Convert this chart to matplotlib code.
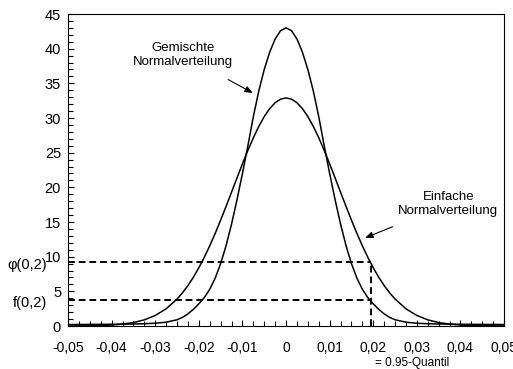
import numpy as np
import matplotlib
matplotlib.use("Agg")
import matplotlib.pyplot as plt
from matplotlib.ticker import FixedLocator, FixedFormatter, MultipleLocator

plt.rcParams["font.family"] = ["Liberation Sans", "DejaVu Sans"]

# x grid (fine in the centre, coarser in the tails)
x_vals = [-0.05, -0.0475, -0.045, -0.0425, -0.04, -0.0375, -0.035, -0.0325, -0.03, -0.0275,
          -0.025, -0.02375, -0.0225, -0.02125, -0.02, -0.01875, -0.0175, -0.01625, -0.015, -0.01375,
          -0.0125, -0.01125, -0.01, -0.00875, -0.0075, -0.00625, -0.005, -0.00375, -0.0025, -0.00125,
          0.0,
          0.00125, 0.0025, 0.00375, 0.005, 0.00625, 0.0075, 0.00875, 0.01, 0.01125, 0.0125,
          0.01375, 0.015, 0.01625, 0.0175, 0.01875, 0.02, 0.02125, 0.0225, 0.02375, 0.025,
          0.0275, 0.03, 0.0325, 0.035, 0.0375, 0.04, 0.0425, 0.045, 0.0475, 0.05]

# "Einfache Normalverteilung"
normal_vals = [0.01, 0.015, 0.03, 0.07, 0.14, 0.27, 0.50, 0.89, 1.52, 2.48,
               3.89, 4.79, 5.83, 7.04, 8.40, 9.91, 11.57, 13.36, 15.27, 17.26,
               19.30, 21.36, 23.39, 25.34, 27.15, 28.79, 30.21, 31.36, 32.21, 32.72,
               32.90,
               32.72, 32.21, 31.36, 30.21, 28.79, 27.15, 25.34, 23.39, 21.36, 19.30,
               17.26, 15.27, 13.36, 11.57, 9.91, 8.40, 7.04, 5.83, 4.79, 3.89,
               2.48, 1.52, 0.89, 0.50, 0.27, 0.14, 0.07, 0.03, 0.015, 0.01]

# "Gemischte Normalverteilung"
mixed_vals = [0.21, 0.22, 0.23, 0.24, 0.25, 0.27, 0.29, 0.33, 0.40, 0.55,
              0.90, 1.25, 1.75, 2.40, 3.20, 4.10, 5.30, 6.90, 9.00, 11.60,
              14.70, 18.20, 22.00, 26.00, 30.20, 33.90, 37.00, 39.50, 41.40, 42.60,
              43.00,
              42.60, 41.40, 39.50, 37.00, 33.90, 30.20, 26.00, 22.00, 18.20, 14.70,
              11.60, 9.00, 6.90, 5.30, 4.10, 3.20, 2.40, 1.75, 1.25, 0.90,
              0.55, 0.40, 0.33, 0.29, 0.27, 0.25, 0.24, 0.23, 0.22, 0.21]

quantile_x = 0.0195
phi_02 = 9.27
f_02 = 3.75

x_ticks = [-0.05, -0.04, -0.03, -0.02, -0.01, 0.0, 0.01, 0.02, 0.03, 0.04, 0.05]
x_tick_labels = ["-0,05", "-0,04", "-0,03", "-0,02", "-0,01", "0",
                 "0,01", "0,02", "0,03", "0,04", "0,05"]
y_ticks = [0, 5, 10, 15, 20, 25, 30, 35, 40, 45]

fig = plt.figure(figsize=(5.13, 3.69), dpi=100)
ax = fig.add_axes([0.1326, 0.1165, 0.85, 0.8455])

ax.plot(x_vals, normal_vals, color="black", linewidth=1.1)
ax.plot(x_vals, mixed_vals, color="black", linewidth=1.1)

dash = (0, (3.5, 2))
ax.plot([-0.05, quantile_x], [phi_02, phi_02], color="black", linewidth=1.4, linestyle=dash)
ax.plot([-0.05, quantile_x], [f_02, f_02], color="black", linewidth=1.4, linestyle=dash)
ax.plot([quantile_x, quantile_x], [0, phi_02], color="black", linewidth=1.4, linestyle=dash)

ax.set_xlim(-0.05, 0.05)
ax.set_ylim(0, 45)

ax.xaxis.set_major_locator(FixedLocator(x_ticks))
ax.xaxis.set_major_formatter(FixedFormatter(x_tick_labels))
ax.xaxis.set_minor_locator(MultipleLocator(0.0025))
ax.yaxis.set_major_locator(FixedLocator(y_ticks))
ax.yaxis.set_minor_locator(MultipleLocator(1))

ax.tick_params(axis="both", which="both", direction="in", width=0.8)
ax.tick_params(axis="x", labelsize=10)
ax.tick_params(axis="y", labelsize=10.5)
ax.tick_params(axis="both", which="major", length=4)
ax.tick_params(axis="both", which="minor", length=3.5)
ax.tick_params(axis="x", pad=11)
ax.tick_params(axis="y", pad=5)
for s in ax.spines.values():
    s.set_linewidth(0.8)

# labels left of the axis for the dashed levels
ax.text(-0.048, phi_02 - 0.4, "\u03c6(0,2)", transform=ax.get_yaxis_transform(),
        ha="right", va="center", fontsize=10.5)
ax.text(-0.048, f_02 - 0.5, "f(0,2)", transform=ax.get_yaxis_transform(),
        ha="right", va="center", fontsize=10.5)

ax.text(0.029, -5.3, "= 0.95-Quantil", ha="center", va="center", fontsize=8.5,
        clip_on=False)

ax.annotate("Gemischte\nNormalverteilung", xy=(-0.0076, 33.6), xytext=(-0.0236, 39.1),
            ha="center", va="center", fontsize=9.5, linespacing=1.25,
            arrowprops=dict(arrowstyle="-|>,head_length=0.5,head_width=0.2",
                            color="black", linewidth=0.8, shrinkA=13, shrinkB=0))
ax.annotate("Einfache\nNormalverteilung", xy=(0.0181, 12.7), xytext=(0.0372, 17.6),
            ha="center", va="center", fontsize=9.5, linespacing=1.25,
            arrowprops=dict(arrowstyle="-|>,head_length=0.5,head_width=0.2",
                            color="black", linewidth=0.8, shrinkA=13, shrinkB=0))

fig.savefig("out.png", dpi=100)
